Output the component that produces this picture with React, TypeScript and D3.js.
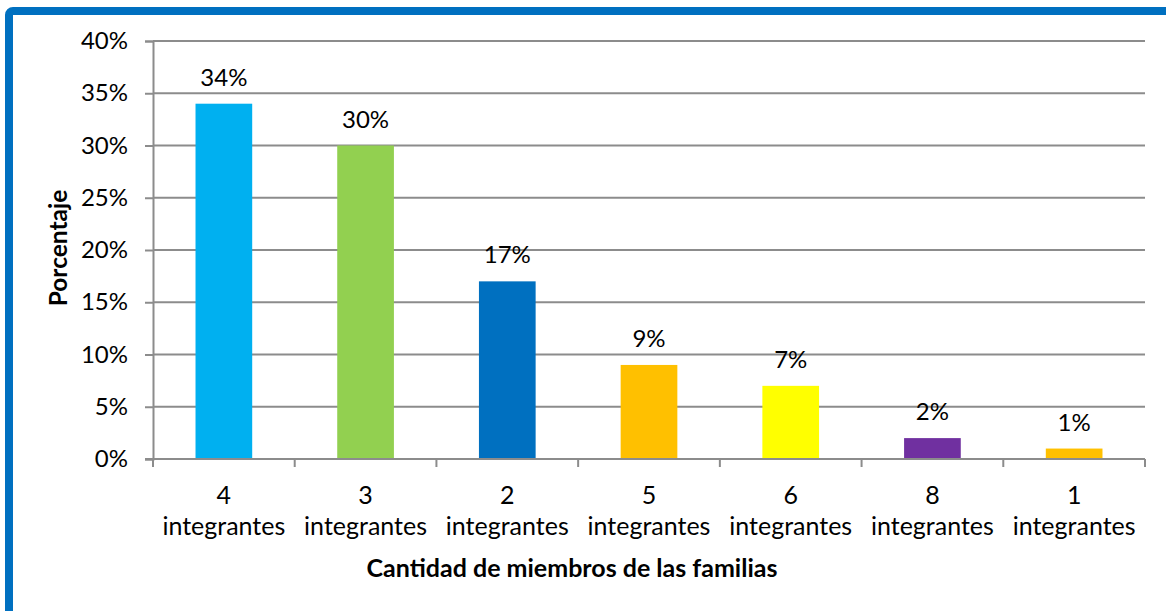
import { useEffect, useRef } from "react";
import * as d3 from "d3";

const categories = ["4", "3", "2", "5", "6", "8", "1"];
const values = [34, 30, 17, 9, 7, 2, 1];
const barColors = ["#00B0F0", "#92D050", "#0070C0", "#FFC000", "#FFFF00", "#7030A0", "#FFC000"];
const yTicks = [0, 5, 10, 15, 20, 25, 30, 35, 40];
const unitLabel = "integrantes";
const xTitle = "Cantidad de miembros de las familias";
const yTitle = "Porcentaje";

const W = 1166;
const H = 611;
const FONT = "Lato, 'Open Sans', sans-serif";

const App = () => {
  const ref = useRef<SVGSVGElement | null>(null);

  useEffect(() => {
    drawChart();
  }, []);

  const drawChart = () => {
    const svg = d3.select(ref.current);
    svg.selectAll("*").remove();

    const plot = { left: 153, right: 1145, top: 41, bottom: 459 };

    // outer frame (blue border, runs off the right and bottom)
    svg
      .append("rect")
      .attr("x", 9)
      .attr("y", 11)
      .attr("width", W + 20)
      .attr("height", H + 20)
      .attr("rx", 4)
      .attr("fill", "#fff")
      .attr("stroke", "#0070C0")
      .attr("stroke-width", 8);

    const xScale = d3.scaleBand().domain(categories).range([plot.left, plot.right]).paddingInner(0.6).paddingOuter(0.3);
    const xEdge = d3.scaleLinear().domain([0, categories.length]).range([plot.left, plot.right]);
    const yScale = d3.scaleLinear().domain([0, 40]).range([plot.bottom, plot.top]);

    // gridlines
    svg
      .append("g")
      .selectAll("line")
      .data(yTicks.filter((t) => t > 0))
      .join("line")
      .attr("x1", plot.left)
      .attr("x2", plot.right)
      .attr("y1", (d) => yScale(d))
      .attr("y2", (d) => yScale(d))
      .attr("stroke", "#8c8c8c")
      .attr("stroke-width", 2);

    // Y axis
    svg
      .append("g")
      .attr("transform", `translate(${plot.left},0)`)
      .call(d3.axisLeft(yScale).tickValues(yTicks).tickSize(8).tickPadding(17).tickFormat((d) => `${d}%`))
      .call((g) => g.select(".domain").attr("stroke", "#8c8c8c").attr("stroke-width", 2))
      .call((g) => g.selectAll(".tick line").attr("stroke", "#8c8c8c").attr("stroke-width", 2))
      .call((g) => g.selectAll("text").attr("fill", "#000").style("font-size", "24px").style("font-family", FONT));

    // bars
    svg
      .append("g")
      .selectAll("rect")
      .data(values)
      .join("rect")
      .attr("x", (_, i) => xScale(categories[i]) as number)
      .attr("width", xScale.bandwidth())
      .attr("y", (d) => yScale(d))
      .attr("height", (d) => yScale(0) - yScale(d))
      .attr("fill", (_, i) => barColors[i]);

    // X axis line and ticks at category edges
    const xAxis = svg.append("g");
    xAxis
      .append("line")
      .attr("x1", plot.left - 8)
      .attr("x2", plot.right)
      .attr("y1", plot.bottom)
      .attr("y2", plot.bottom)
      .attr("stroke", "#8c8c8c")
      .attr("stroke-width", 2);
    xAxis
      .selectAll(".edge")
      .data(d3.range(categories.length + 1))
      .join("line")
      .attr("x1", (d) => xEdge(d))
      .attr("x2", (d) => xEdge(d))
      .attr("y1", plot.bottom)
      .attr("y2", plot.bottom + 8)
      .attr("stroke", "#8c8c8c")
      .attr("stroke-width", 2);

    // category labels (two lines)
    const labels = svg
      .append("g")
      .selectAll("text")
      .data(categories)
      .join("text")
      .attr("text-anchor", "middle")
      .attr("fill", "#000")
      .style("font-size", "25px")
      .style("font-family", FONT);
    labels
      .append("tspan")
      .attr("x", (d) => (xScale(d) as number) + xScale.bandwidth() / 2)
      .attr("y", 504)
      .text((d) => d);
    labels
      .append("tspan")
      .attr("x", (d) => (xScale(d) as number) + xScale.bandwidth() / 2)
      .attr("y", 535)
      .text(unitLabel);

    // value labels
    svg
      .append("g")
      .selectAll("text")
      .data(values)
      .join("text")
      .attr("x", (_, i) => (xScale(categories[i]) as number) + xScale.bandwidth() / 2)
      .attr("y", (d) => yScale(d) - 18)
      .attr("text-anchor", "middle")
      .attr("fill", "#000")
      .style("font-size", "24px")
      .style("font-family", FONT)
      .text((d) => `${d}%`);

    // axis titles
    svg
      .append("text")
      .attr("x", 572)
      .attr("y", 577)
      .attr("text-anchor", "middle")
      .attr("fill", "#000")
      .style("font-size", "25px")
      .style("font-weight", "bold")
      .style("font-family", FONT)
      .text(xTitle);

    svg
      .append("text")
      .attr("transform", `translate(67,248) rotate(-90)`)
      .attr("text-anchor", "middle")
      .attr("fill", "#000")
      .style("font-size", "24.5px")
      .style("font-weight", "bold")
      .style("font-family", FONT)
      .text(yTitle);
  };

  return (
    <div style={{ position: "fixed", left: 0, top: 0, width: W, height: H, background: "#fff" }}>
      <svg ref={ref} width={W} height={H} style={{ display: "block" }} />
    </div>
  );
};

export default App;
